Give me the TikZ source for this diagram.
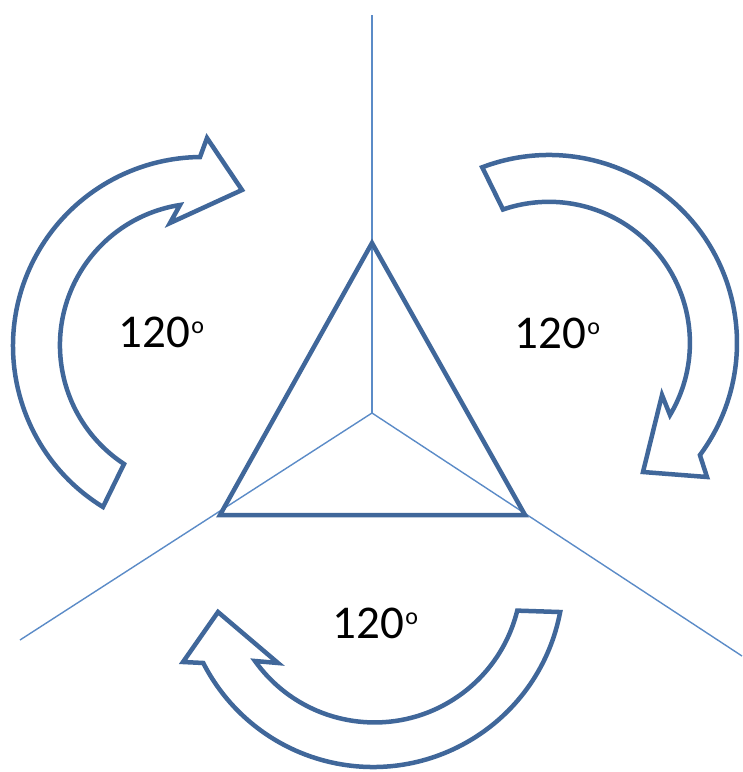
\documentclass[tikz,border=0pt]{standalone}
\usepackage{fontspec}
\setmainfont{Carlito}
\definecolor{arrowblue}{HTML}{40679A}
\definecolor{lineblue}{HTML}{5B8BC7}
\newcommand{\degsign}{\kern1pt\raisebox{14pt}{\fontsize{24}{28}\selectfont o}}
\begin{document}
\begin{tikzpicture}[
            x=1pt, y=1pt,
            blockarrow/.style={draw=arrowblue, line width=4.5pt, line join=miter, fill=white},
            thinline/.style={draw=lineblue, line width=1.4pt},
            trianglepath/.style={draw=arrowblue, line width=4.5pt, line join=miter},
            anglelabel/.style={inner sep=0pt, anchor=base, font=\fontsize{47}{56}\selectfont}
        ]
        \useasboundingbox (0,0) rectangle (743,-772);
        % centre, triangle corners and line ends
        \coordinate (o) at (372,-413);
        \coordinate (t) at (372,-243);
        \coordinate (bl) at (220,-515);
        \coordinate (br) at (525,-515);
        \coordinate (e1) at (372,-15);
        \coordinate (e2) at (20,-640);
        \coordinate (e3) at (742,-656);
        % arc centres of the three arrows
        \coordinate (c1) at (202,-346);
        \coordinate (c2) at (549,-343);
        \coordinate (c3) at (373,-576.5);

        \draw[thinline] (o) -- (e1);
        \draw[thinline] (o) -- (e2);
        \draw[thinline] (o) -- (e3);
        \draw[trianglepath] (t) -- (bl) -- (br) -- cycle;

        \draw[blockarrow] (c1) ++(238.4:189) arc[start angle=238.4, end angle=90.6, radius=189]
            -- (207,-138) -- (242,-190) -- (170,-223) -- (180,-205)
            arc[start angle=98.9, end angle=236.7, radius=142] -- cycle;
        \draw[blockarrow] (c2) ++(110.8:188) arc[start angle=110.8, end angle=-36.6, radius=188]
            -- (707,-477) -- (643,-472) -- (662,-395) -- (670,-415)
            arc[start angle=-30.8, end angle=109, radius=141] -- cycle;
        \draw[blockarrow] (c3) ++(-10.75:190.5) arc[start angle=-10.75, end angle=-153, radius=190.5]
            -- (183,-662) -- (218,-612) -- (278,-663) -- (255,-661)
            arc[start angle=215.6, end angle=346.15, radius=147] -- cycle;

        \node[anglelabel] (left) at (161.5,-347) {120\degsign};
        \node[anglelabel] (right) at (557.5,-348) {120\degsign};
        \node[anglelabel] (bottom) at (375.5,-638) {120\degsign};
    \end{tikzpicture}
\end{document}
